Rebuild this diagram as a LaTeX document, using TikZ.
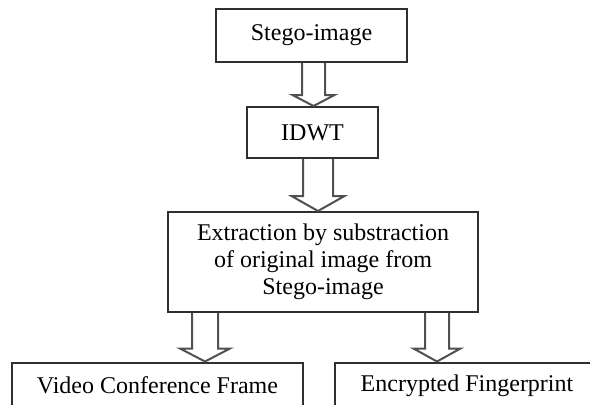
\documentclass[tikz,border=0pt]{standalone}
\usepackage{fontspec}
\setmainfont{Liberation Serif}
\usepackage{tikz}
\usetikzlibrary{calc}

\definecolor{boxline}{HTML}{303030}
\definecolor{arrline}{HTML}{505050}

\tikzset{
  box/.style={draw=boxline, line width=1pt, inner sep=0pt, align=center,
    font=\fontsize{12}{13.4}\selectfont},
  arrowline/.style={draw=arrline, line width=1pt, line join=miter}
}

% hollow block arrow: x, from, to, shaft half width, head half width, head length
\newcommand{\hollowarrow}[6]{%
  \coordinate (ax) at (#1,0);
  \draw[arrowline] ($(ax |- #2.south)+(-#4,0)$) -- ($(ax |- #3.north)+(-#4,-#6)$)
    -- ($(ax |- #3.north)+(-#5,-#6)$) -- (ax |- #3.north)
    -- ($(ax |- #3.north)+(#5,-#6)$) -- ($(ax |- #3.north)+(#4,-#6)$)
    -- ($(ax |- #2.south)+(#4,0)$);
}

\begin{document}
\begin{tikzpicture}[x=0.5pt, y=-0.5pt]
    \useasboundingbox[fill=white] (0,0) rectangle (590,404);
    \clip (0,0) rectangle (590,404);
    \node[box, minimum width=95.5pt, minimum height=26.5pt] (b1) at (311.5,35.5) {Stego-image};
    \node[box, minimum width=65.5pt, minimum height=25.5pt] (b2) at (312.5,132.5) {IDWT};
    \node[box, minimum width=155pt, minimum height=50pt] (b3) at (323,262)
      {Extraction by substraction\\ of original image from\\ Stego-image};
    \node[box, minimum width=145.5pt, minimum height=23pt] (b4) at (157.5,385.5) {Video Conference Frame};
    \node[box, minimum width=132pt, minimum height=23pt] (b5) at (467,385.5) {Encrypted Fingerprint};
    \hollowarrow{313.5}{b1}{b2}{11.5}{21}{11}
    \hollowarrow{318}{b2}{b3}{15}{26.5}{15}
    \hollowarrow{205}{b3}{b4}{13}{25}{13}
    \hollowarrow{437}{b3}{b5}{12}{23.5}{13}
\end{tikzpicture}
\end{document}
